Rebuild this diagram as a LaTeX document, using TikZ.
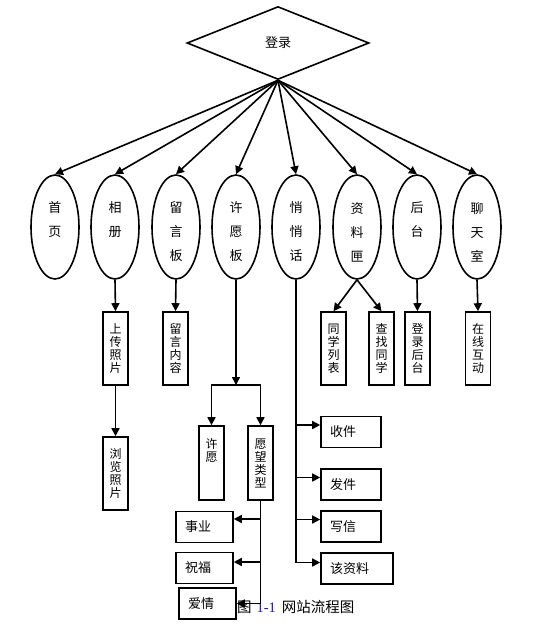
\documentclass[tikz,border=0pt]{standalone}
\usepackage{fontspec}
\setmainfont{Noto Sans CJK SC}
\newfontfamily\capnum{Liberation Serif}
\usepackage{tikz}
\usetikzlibrary{shapes.geometric,arrows.meta}
\usepackage{xcolor}
\definecolor{capblue}{RGB}{30,30,140}
\newcommand\pagetop{\rule{0pt}{21pt}}

\begin{document}
\begin{tikzpicture}[x=1pt,y=-1pt,line width=1.6pt,
  arr/.style={-{Triangle[length=8pt,width=8pt]}},
  start/.style={diamond,draw,minimum width=182pt,minimum height=73pt,inner sep=0pt,font=\fontsize{13}{15}\selectfont},
  page/.style={ellipse,draw,minimum width=48pt,minimum height=104pt,inner sep=1pt,align=center,font=\fontsize{13}{24}\selectfont},
  vbox/.style={rectangle,draw,fill=white,minimum width=25pt,minimum height=#1,inner sep=1pt,align=center,font=\fontsize{12}{13}\selectfont},
  vbox/.default=73pt,
  hbox/.style={rectangle,draw,fill=white,minimum height=31pt,inner xsep=9pt,text width=#1,align=left,font=\fontsize{13}{15}\selectfont}]
  \useasboundingbox (0,0) rectangle (540,625);
  \node[start] (login) at (278,43) {登录};
  \node[page] (shouye)   at (55,227)  {\pagetop 首\\页\\\phantom{首}};
  \node[page] (xiangce)  at (115,227) {\pagetop 相\\册\\\phantom{相}};
  \node[page] (liuyan)   at (176,227) {\pagetop 留\\言\\板};
  \node[page] (xuyuan)   at (236,227) {\pagetop 许\\愿\\板};
  \node[page] (qiaoqiao) at (296,227) {\pagetop 悄\\悄\\话};
  \node[page] (ziliao)   at (357,227) {\pagetop 资\\料\\匣};
  \node[page] (houtai)   at (417,227) {\pagetop 后\\台\\\phantom{后}};
  \node[page] (liaotian) at (477,227) {\pagetop 聊\\天\\室};
  \foreach \n in {shouye,xiangce,liuyan,xuyuan,qiaoqiao,ziliao,houtai,liaotian}
    \draw[arr] (login.south) -- (\n.north);

  \node[vbox] (shangchuan) at (115.5,348.5) {上\\传\\照\\片};
  \node[vbox] (liulan)     at (115.5,473.5) {浏\\览\\照\\片};
  \node[vbox] (neirong)    at (175.5,348.5) {留\\言\\内\\容};
  \node[vbox] (tongxue)    at (333.5,348.5) {同\\学\\列\\表};
  \node[vbox] (chazhao)    at (381.5,348.5) {查\\找\\同\\学};
  \node[vbox] (guanli)     at (417.5,348.5) {登\\录\\后\\台};
  \node[vbox] (hudong)     at (478,348.5)   {在\\线\\互\\动};
  \node[vbox=74pt] (xuyuanbox) at (211.5,463) {许\\愿\\\phantom{许}\\\phantom{许}};
  \node[vbox=74pt] (leixing)   at (260.5,463) {愿\\望\\类\\型};
  \draw[arr] (xiangce.south) -- (shangchuan.north);
  \draw[arr] (shangchuan.south) -- (liulan.north);
  \draw[arr] (liuyan.south) -- (neirong.north);
  \draw[arr] (ziliao.south) -- (tongxue.north);
  \draw[arr] (ziliao.south) -- (chazhao.north);
  \draw[arr] (houtai.south) -- (guanli.north);
  \draw[arr] (liaotian.south) -- (hudong.north);

  \coordinate (fork) at (236,385);
  \draw[arr] (xuyuan.south) -- (fork);
  \draw[arr] (fork) -| (xuyuanbox.north);
  \draw[arr] (fork) -| (leixing.north);

  \node[hbox=42pt] (shoujian)  at (351,432)   {收件};
  \node[hbox=42pt] (fajian)    at (351,484.5) {发件};
  \node[hbox=42pt] (xiexin)    at (351,526.5) {写信};
  \node[hbox=54pt] (gaiziliao) at (357,568.5) {该资料};
  \draw[arr] (qiaoqiao.south) |- ([yshift=6pt]gaiziliao.west);
  \foreach \n in {shoujian,fajian,xiexin}
    \draw[arr] ([yshift=7pt]qiaoqiao.south |- \n.west) -- ([yshift=7pt]\n.west);

  \node[anchor=west,font=\fontsize{14.5}{16}\selectfont] (caption) at (233,607)
    {图\hspace{5pt}{\capnum\color{capblue}1-1}\hspace{6pt}网站流程图};
  \node[hbox=39pt] (shiye)  at (204.5,527)   {事业};
  \node[hbox=39pt] (zhufu)  at (204.5,568)   {祝福};
  \node[hbox=39pt] (aiqing) at (207.5,603.5) {爱情};
  \draw[arr] (leixing.south) |- (aiqing.east);
  \foreach \n/\s in {shiye/8,zhufu/6}
    \draw[arr] ([yshift=\s pt]leixing.south |- \n.east) -- ([yshift=\s pt]\n.east);
\end{tikzpicture}
\end{document}
